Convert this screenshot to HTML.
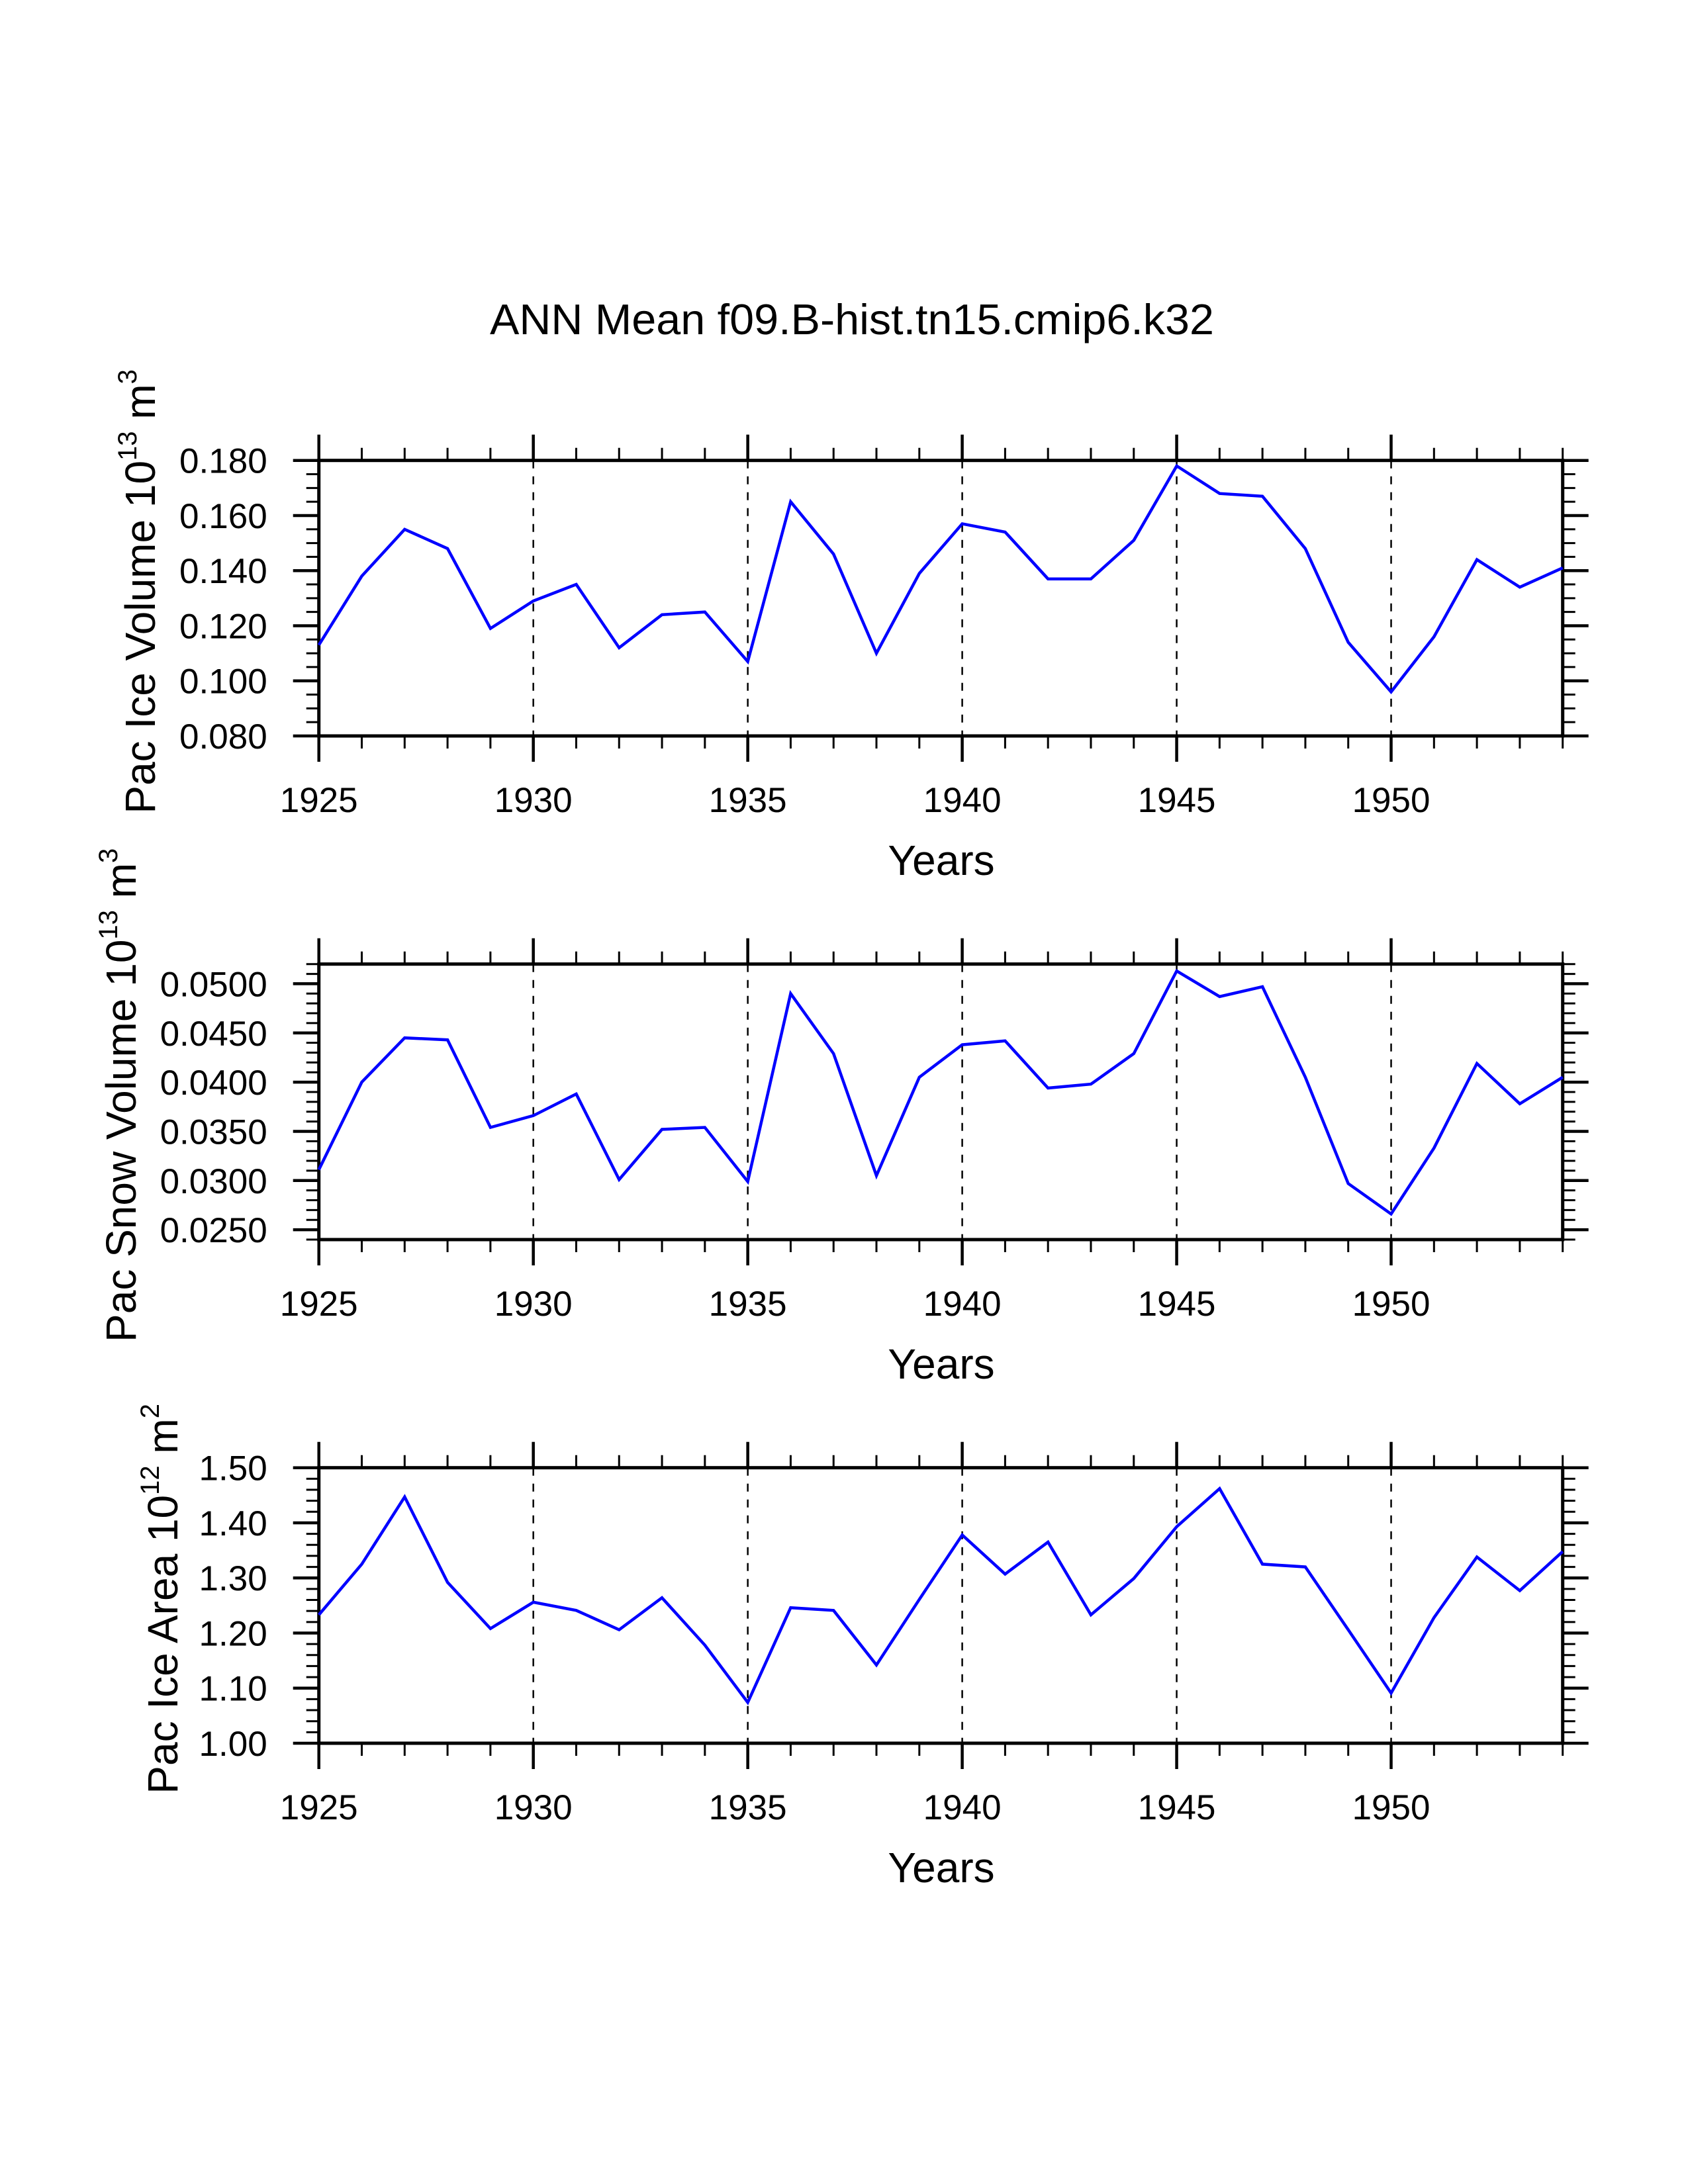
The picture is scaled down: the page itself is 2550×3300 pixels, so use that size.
<!DOCTYPE html>
<html><head><meta charset="utf-8"><style>
html,body{margin:0;padding:0;background:#fff;}
svg{display:block;font-family:"Liberation Sans",Arial,sans-serif;}
</style></head><body>
<svg id="chart" width="2550" height="3300" viewBox="0 0 2550 3300" xmlns="http://www.w3.org/2000/svg">
<rect width="2550" height="3300" fill="#fff"/>
<text x="1287" y="505" font-size="65" text-anchor="middle" textLength="1094" lengthAdjust="spacingAndGlyphs">ANN Mean f09.B-hist.tn15.cmip6.k32</text>
</svg>
<script>
const years = [1925,1926,1927,1928,1929,1930,1931,1932,1933,1934,1935,1936,1937,1938,1939,1940,1941,1942,1943,1944,1945,1946,1947,1948,1949,1950,1951,1952,1953,1954];
const iceVolume = [0.113,0.138,0.155,0.148,0.119,0.129,0.135,0.112,0.124,0.125,0.107,0.165,0.146,0.110,0.139,0.157,0.154,0.137,0.137,0.151,0.178,0.168,0.167,0.148,0.114,0.096,0.116,0.144,0.134,0.141];
const snowVolume = [0.0311,0.0400,0.0445,0.0443,0.0354,0.0366,0.0388,0.0301,0.0352,0.0354,0.0299,0.0490,0.0429,0.0305,0.0405,0.0438,0.0442,0.0394,0.0398,0.0429,0.0513,0.0487,0.0497,0.0405,0.0297,0.0266,0.0333,0.0419,0.0378,0.0405];
const iceArea = [1.233,1.325,1.447,1.292,1.208,1.256,1.241,1.206,1.264,1.178,1.074,1.246,1.241,1.142,1.261,1.378,1.307,1.365,1.233,1.299,1.393,1.462,1.325,1.320,1.206,1.091,1.228,1.338,1.277,1.348];
const xTickLabels = ["1925","1930","1935","1940","1945","1950"];
const iceVolTicks = ["0.080","0.100","0.120","0.140","0.160","0.180"];
const snowVolTicks = ["0.0250","0.0300","0.0350","0.0400","0.0450","0.0500"];
const iceAreaTicks = ["1.00","1.10","1.20","1.30","1.40","1.50"];

const svg = document.getElementById('chart');
const NS = 'http://www.w3.org/2000/svg';
function mk(tag, attrs, parent){
  const e = document.createElementNS(NS, tag);
  for (const k in attrs) e.setAttribute(k, attrs[k]);
  (parent||svg).appendChild(e); return e;
}
const L = 481.7, R = 2360.7, H = 416.3;
const xMin = 1925, xMax = 1954;
function xs(v){ return L + (v - xMin) / (xMax - xMin) * (R - L); }

const panels = [
  {name:'ice-volume', top:695.7, ymin:0.08, ymax:0.18, major:0.02, minor:0.005, ticks:iceVolTicks, data:iceVolume, title:'Pac Ice Volume 10', sup:'13', unit:' m', usup:'3', tx:212},
  {name:'snow-volume', top:1456.7, ymin:0.024, ymax:0.052, major:0.005, minor:0.001, ticks:snowVolTicks, data:snowVolume, title:'Pac Snow Volume 10', sup:'13', unit:' m', usup:'3', tx:183},
  {name:'ice-area', top:2217.7, ymin:1.0, ymax:1.5, major:0.1, minor:0.02, ticks:iceAreaTicks, data:iceArea, title:'Pac Ice Area 10', sup:'12', unit:' m', usup:'2', tx:246}
];
function iceStart(p){ return parseFloat(p.ticks[0]); }

panels.forEach(p => {
  const g = mk('g', {});
  
  
  const B = p.top + H;
  const ys = v => B - (v - p.ymin) / (p.ymax - p.ymin) * H;
  for (let y = 1930; y <= 1950; y += 5) {
    const gl = mk('line', {x1:xs(y), x2:xs(y), y1:p.top, y2:B, stroke:'#000', 'stroke-width':2.5, 'stroke-dasharray':'12,12'}, g);
    
    
  }
  for (let y = xMin; y <= xMax; y++) {
    const maj = (y % 5 === 0);
    const len = maj ? 39 : 19, w = maj ? 4.5 : 3;
    mk('line', {x1:xs(y), x2:xs(y), y1:B, y2:B+len, stroke:'#000', 'stroke-width':w}, g);
    mk('line', {x1:xs(y), x2:xs(y), y1:p.top, y2:p.top-len, stroke:'#000', 'stroke-width':w}, g);
  }
  const nMinor = Math.round((p.ymax - p.ymin) / p.minor);
  for (let i = 0; i <= nMinor; i++) {
    const v = p.ymin + i * p.minor;
    const r = (v - iceStart(p)) / p.major;
    const maj = Math.abs(r - Math.round(r)) < 1e-6;
    const len = maj ? 39 : 19, w = maj ? 4.5 : 3;
    mk('line', {x1:L, x2:L-len, y1:ys(v), y2:ys(v), stroke:'#000', 'stroke-width':w}, g);
    mk('line', {x1:R, x2:R+len, y1:ys(v), y2:ys(v), stroke:'#000', 'stroke-width':w}, g);
  }
  p.ticks.forEach(t => {
    const tl = mk('text', {x:L-78, y:ys(parseFloat(t))+19, 'font-size':53, 'text-anchor':'end'}, g);
    tl.textContent = t;
    
    
  });
  xTickLabels.forEach(t => {
    const tl = mk('text', {x:xs(parseFloat(t)), y:B+115, 'font-size':53, 'text-anchor':'middle'}, g);
    tl.textContent = t;
    
    
  });
  const fr = mk('rect', {x:L, y:p.top, width:R-L, height:H, fill:'none', stroke:'#000', 'stroke-width':5}, g);
  
  
  const pts = p.data.map((v,i) => xs(years[i]).toFixed(1) + ',' + ys(v).toFixed(1)).join(' ');
  const pl = mk('polyline', {points:pts, fill:'none', stroke:'#0000ff', 'stroke-width':4.5, 'stroke-linejoin':'miter'}, g);
  
  
  const xt = mk('text', {x:1422, y:B+210, 'font-size':64, 'text-anchor':'middle'}, g);
  xt.textContent = 'Years';
  
  
  const cy = p.top + H/2 - 10;
  const yt = mk('text', {x:0, y:0, 'font-size':64, 'text-anchor':'middle', transform:'translate(' + (p.tx+22) + ',' + cy + ') rotate(-90)'}, g);
  
  
  const s1 = mk('tspan', {}, yt); s1.textContent = p.title;
  const s2 = mk('tspan', {dy:-28, 'font-size':40}, yt); s2.textContent = p.sup;
  const s3 = mk('tspan', {dy:28}, yt); s3.textContent = p.unit;
  const s4 = mk('tspan', {dy:-28, 'font-size':40}, yt); s4.textContent = p.usup;
});
</script>
</body></html>
